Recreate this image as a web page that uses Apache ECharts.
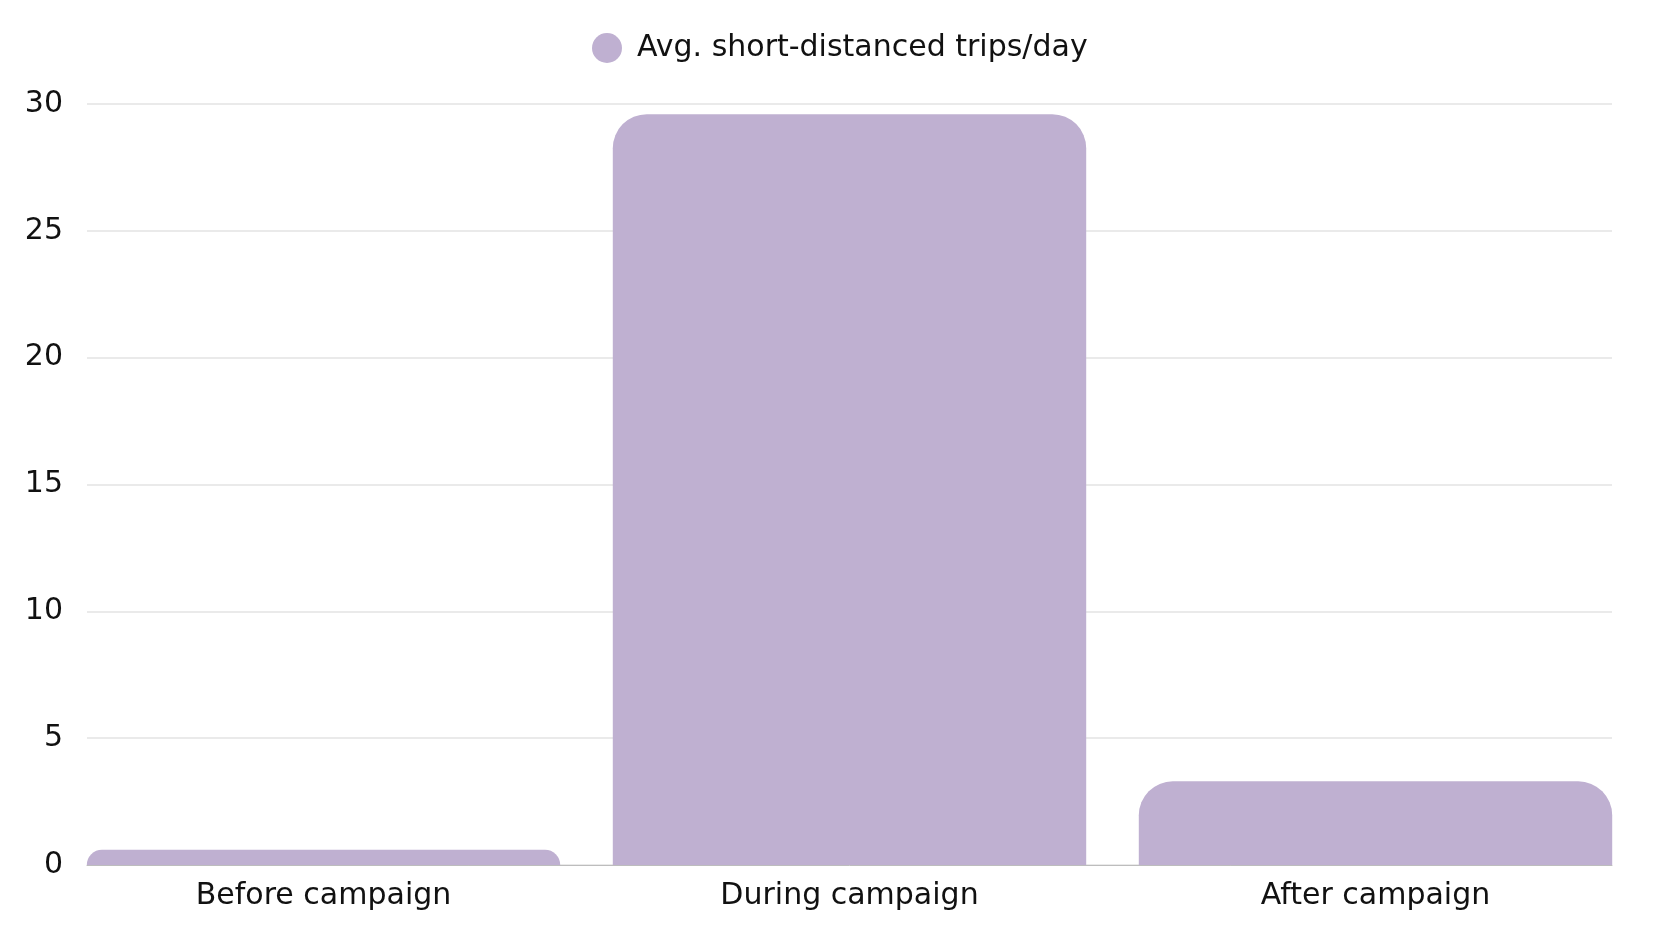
<!DOCTYPE html>
<html>
<head>
<meta charset="utf-8">
<script src="https://cdn.jsdelivr.net/npm/echarts@6/dist/echarts.min.js"></script>
<style>
html,body{margin:0;padding:0;background:#fff;}
#chart{width:1655px;height:944px;}
</style>
</head>
<body>
<div id="chart"></div>
<script>
const categories = ["Before campaign", "During campaign", "After campaign"];
const seriesName = "Avg. short-distanced trips/day";
const values = [0.6, 29.6, 3.3];
const yTicks = { min: 0, max: 30, interval: 5 };

const chart = echarts.init(document.getElementById('chart'));
const font = '"DejaVu Sans", sans-serif';
const fs = 30;
chart.setOption({
  animation: false,
  textStyle: { fontFamily: font },
  legend: {
    top: 28,
    left: 587,
    icon: 'circle',
    itemWidth: 30,
    itemHeight: 30,
    textStyle: { fontSize: fs, color: '#111', fontFamily: font, padding: [0, 0, 0, 10] },
    data: [seriesName]
  },
  grid: [
    { left: 60.5, right: 16.5, top: 104, bottom: 79 },
    { left: 87, right: 43, top: 104, bottom: 79 }
  ],
  xAxis: [
    {
      type: 'category', gridIndex: 0,
      data: categories,
      axisTick: { show: false },
      axisLine: { show: false },
      axisLabel: { fontSize: fs, color: '#111', margin: 16, fontFamily: font }
    },
    {
      type: 'category', gridIndex: 1,
      data: categories,
      axisTick: { show: false },
      axisLabel: { show: false },
      axisLine: { lineStyle: { color: '#bdbdbd', width: 1 } }
    }
  ],
  yAxis: [
    {
      type: 'value', gridIndex: 0,
      min: yTicks.min, max: yTicks.max, interval: yTicks.interval,
      axisLine: { show: false }, axisTick: { show: false },
      axisLabel: { show: false }, splitLine: { show: false }
    },
    {
      type: 'value', gridIndex: 1,
      min: yTicks.min, max: yTicks.max, interval: yTicks.interval,
      axisLine: { show: false },
      axisTick: { show: false },
      splitLine: { lineStyle: { color: '#e3e3e3', width: 1.5 } },
      axisLabel: { fontSize: fs, color: '#111', margin: 24, fontFamily: font }
    }
  ],
  series: [{
    name: seriesName,
    type: 'bar',
    xAxisIndex: 0, yAxisIndex: 0,
    data: values,
    barCategoryGap: '10%',
    z: 3,
    itemStyle: { color: '#bfb0d1', borderRadius: [34, 34, 0, 0] }
  }]
});
</script>
</body>
</html>
